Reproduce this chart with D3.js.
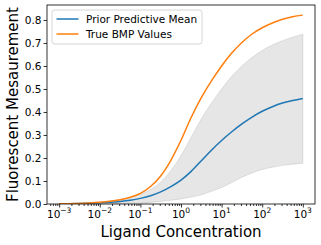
<!DOCTYPE html>
<html><head><meta charset="utf-8">
<script src="https://cdn.jsdelivr.net/npm/d3@7"></script>
<style>html,body{margin:0;padding:0;background:#fff;}svg{display:block;font-family:"DejaVu Sans",sans-serif;}</style>
</head><body><svg id="c" width="321" height="245"></svg>
<script>
const concentrations = [0.001,0.001778,0.003162,0.005623,0.01,0.01778,0.03162,0.05623,0.1,0.1778,0.3162,0.5623,1,1.778,3.162,5.623,10,17.78,31.62,56.23,100,177.8,316.2,562.3,1000];
const trueBMP = [0.001,0.0016,0.0026,0.0043,0.0071,0.0115,0.0185,0.029,0.046,0.076,0.122,0.190,0.277,0.376,0.462,0.535,0.600,0.656,0.702,0.739,0.766,0.787,0.803,0.814,0.821];
const priorMean = [0.0009,0.0014,0.0021,0.0032,0.0049,0.0073,0.011,0.0164,0.0245,0.036,0.0527,0.0756,0.104,0.142,0.188,0.234,0.276,0.314,0.348,0.378,0.403,0.423,0.439,0.450,0.459];
const priorUpper = [0.002,0.003,0.004,0.006,0.009,0.013,0.019,0.028,0.042,0.063,0.095,0.145,0.210,0.290,0.370,0.438,0.500,0.555,0.600,0.637,0.667,0.691,0.710,0.725,0.738];
const priorLower = [0,0,0.0005,0.001,0.001,0.002,0.002,0.003,0.004,0.007,0.011,0.016,0.022,0.030,0.040,0.055,0.072,0.093,0.116,0.135,0.150,0.160,0.168,0.173,0.177];
const xTickExponents = [-3,-2,-1,0,1,2,3];
const yTicks = [0.0,0.1,0.2,0.3,0.4,0.5,0.6,0.7,0.8];
const legendLabels = ["Prior Predictive Mean","True BMP Values"];

const L=47,R=315,T=5,B=204;
const svg=d3.select("#c");
const x=d3.scaleLog().domain([Math.pow(10,-3.3),Math.pow(10,3.3)]).range([L,R]);
const y=d3.scaleLinear().domain([0,0.865]).range([B,T]);

svg.append("defs").append("clipPath").attr("id","clip").append("rect")
  .attr("x",L).attr("y",T).attr("width",R-L).attr("height",B-T);
const g=svg.append("g").attr("clip-path","url(#clip)");

const idx=d3.range(concentrations.length);
g.append("path").datum(idx)
  .attr("d",d3.area().x(i=>x(concentrations[i])).y0(i=>y(priorLower[i])).y1(i=>y(priorUpper[i])).curve(d3.curveMonotoneX))
  .attr("fill","gray").attr("fill-opacity",0.2).attr("stroke","gray").attr("stroke-opacity",0.2).attr("stroke-width",1);

const line=arr=>d3.line().x(i=>x(concentrations[i])).y(i=>y(arr[i])).curve(d3.curveMonotoneX);
g.append("path").datum(idx).attr("d",line(priorMean)).attr("fill","none").attr("stroke","#1f77b4").attr("stroke-width",1.5);
g.append("path").datum(idx).attr("d",line(trueBMP)).attr("fill","none").attr("stroke","#ff7f0e").attr("stroke-width",1.5);

// axes
const xMajor=xTickExponents.map(e=>Math.pow(10,e));
const xMinor=[];
for(let e=-4;e<=3;e++){for(let m=2;m<=9;m++){const v=m*Math.pow(10,e);if(v>=x.domain()[0]&&v<=x.domain()[1])xMinor.push(v);}}
const xAxis=svg.append("g").attr("transform",`translate(0,${B})`);
xAxis.call(d3.axisBottom(x).tickValues(xMinor).tickSize(2).tickFormat(""));
xAxis.append("g").call(d3.axisBottom(x).tickValues(xMajor).tickSize(3.5).tickFormat(""));
xAxis.selectAll("path.domain").remove();
xAxis.selectAll("line").attr("stroke","#000").attr("stroke-width",0.8);
const xl=svg.append("g");
xTickExponents.forEach(e=>{
  const t=xl.append("text").attr("x",x(Math.pow(10,e))).attr("y",217.5).attr("text-anchor","middle").attr("font-size",10.5).attr("fill","#000");
  t.append("tspan").text("10");
  t.append("tspan").attr("dy",-4.5).attr("font-size",7.5).text(e<0?"\u2212"+Math.abs(e):String(e));
});

const yAxis=svg.append("g").attr("transform",`translate(${L},0)`)
  .call(d3.axisLeft(y).tickValues(yTicks).tickSize(3.5).tickPadding(2).tickFormat(d3.format(".1f")));
yAxis.selectAll("path.domain").remove();
yAxis.selectAll("line").attr("stroke","#000").attr("stroke-width",0.8);
yAxis.selectAll("text").attr("font-size",10.5).attr("font-family","DejaVu Sans").attr("fill","#000");

svg.append("rect").attr("x",L).attr("y",T).attr("width",R-L).attr("height",B-T)
  .attr("fill","none").attr("stroke","#000").attr("stroke-width",0.8);

svg.append("text").attr("x",(L+R)/2).attr("y",236.5).attr("text-anchor","middle").attr("font-size",15).text("Ligand Concentration");
svg.append("text").attr("transform",`translate(18,${(T+B)/2}) rotate(-90)`).attr("text-anchor","middle").attr("font-size",15).text("Fluorescent Mesaurement");

// legend
const lg=svg.append("g");
lg.append("rect").attr("x",52).attr("y",10).attr("width",150).attr("height",34).attr("rx",2.5)
  .attr("fill","#fff").attr("fill-opacity",0.8).attr("stroke","#cccccc").attr("stroke-width",0.8);
const colors=["#1f77b4","#ff7f0e"];
legendLabels.forEach((lab,i)=>{
  const yy=19+i*15;
  lg.append("line").attr("x1",56.5).attr("x2",78.5).attr("y1",yy).attr("y2",yy).attr("stroke",colors[i]).attr("stroke-width",1.5);
  lg.append("text").attr("x",86).attr("y",yy+3.8).attr("font-size",10.5).attr("fill","#000").text(lab);
});
</script></body></html>
